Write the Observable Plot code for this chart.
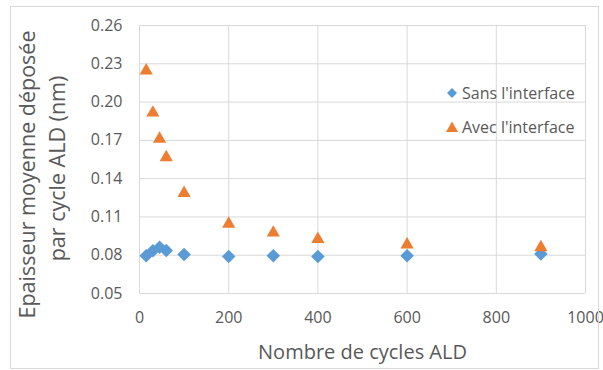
<!DOCTYPE html>
<html>
<head>
<meta charset="utf-8">
<script src="https://cdn.jsdelivr.net/npm/d3@7"></script>
<script src="https://cdn.jsdelivr.net/npm/@observablehq/plot@0.6"></script>
<style>
  html, body { margin: 0; padding: 0; background: #fff; }
  #wrap { position: relative; width: 603px; height: 370px; font-family: "Open Sans", sans-serif; }
  #border { position: absolute; left: 10px; top: 6px; width: 587px; height: 361px; border: 1px solid #d9d9d9; pointer-events: none; }
  #legend { position: absolute; left: 446px; top: 76px; font-size: 16px; color: #595959; line-height: 34px; }
  #legend div { display: flex; align-items: center; white-space: nowrap; }
  #legend svg { margin-right: 4px; }
</style>
</head>
<body>
<div id="wrap">
  <div id="chart"></div>
  <div id="legend"></div>
  <div id="border"></div>
</div>
<script>
// Data
const cyclesSans = [15, 30, 45, 60, 100, 200, 300, 400, 600, 900];
const valuesSans = [0.0795, 0.0835, 0.0863, 0.0837, 0.0805, 0.079, 0.0795, 0.079, 0.0795, 0.081];
const cyclesAvec = [15, 30, 45, 60, 100, 200, 300, 400, 600, 900];
const valuesAvec = [0.226, 0.193, 0.1725, 0.158, 0.130, 0.106, 0.099, 0.094, 0.0897, 0.0876];
const seriesNames = ["Sans l'interface", "Avec l'interface"];
const seriesColors = ["#5B9BD5", "#ED7D31"];
const xTicks = [0, 200, 400, 600, 800, 1000];
const yTicks = [0.05, 0.08, 0.11, 0.14, 0.17, 0.20, 0.23, 0.26];
const xTitle = "Nombre de cycles ALD";
const yTitleLines = ["Epaisseur moyenne déposée", "par cycle ALD (nm)"];

const sans = cyclesSans.map((c, i) => ({x: c, y: valuesSans[i]}));
const avec = cyclesAvec.map((c, i) => ({x: c, y: valuesAvec[i]}));

const textColor = "#595959";
const gridColor = "#d9d9d9";

const chart = Plot.plot({
  width: 603,
  height: 370,
  marginLeft: 139,
  marginRight: 18,
  marginTop: 25,
  marginBottom: 77,
  style: { fontFamily: "'Open Sans', sans-serif", color: textColor, background: "transparent", overflow: "visible" },
  x: { domain: [0, 1000], ticks: xTicks, label: null },
  y: { domain: [0.05, 0.26], ticks: yTicks, label: null },
  marks: [
    Plot.gridX(xTicks, { stroke: gridColor, strokeOpacity: 1, strokeWidth: 1 }),
    Plot.gridY(yTicks, { stroke: gridColor, strokeOpacity: 1, strokeWidth: 1 }),
    Plot.axisX(xTicks, { tickSize: 0, tickPadding: 18, fontSize: 16, fill: textColor, tickFormat: d3.format("d"), label: null }),
    Plot.axisY(yTicks, { tickSize: 0, tickPadding: 17, fontSize: 16, fill: textColor, tickFormat: d3.format(".2f"), label: null }),
    Plot.dot(sans, { x: "x", y: "y", symbol: "diamond2", r: 6.1, fill: seriesColors[0], stroke: "none" }),
    Plot.dot(avec, { x: "x", y: "y", symbol: "triangle", r: 4.9, fill: seriesColors[1], stroke: "none", dy: 1.8 }),
    Plot.text([xTitle], { frameAnchor: "bottom", dy: 65, fontSize: 20, fill: textColor }),
    Plot.text([yTitleLines[0]], { frameAnchor: "left", textAnchor: "middle", dx: -111, dy: 15, rotate: -90, fontSize: 21.5, fill: textColor }),
    Plot.text([yTitleLines[1]], { frameAnchor: "left", textAnchor: "middle", dx: -81, dy: 9, rotate: -90, fontSize: 21.5, fill: textColor })
  ]
});
document.getElementById("chart").appendChild(chart);

// Legend
const legend = document.getElementById("legend");
const sym = [
  '<svg width="12" height="12" viewBox="-6 -6 12 12"><path d="M0,-5L5,0L0,5L-5,0Z" fill="' + seriesColors[0] + '"/></svg>',
  '<svg width="12" height="12" viewBox="-6 -6 12 12"><path d="M0,-5.5L6,5L-6,5Z" fill="' + seriesColors[1] + '"/></svg>'
];
seriesNames.forEach((name, i) => {
  const row = document.createElement("div");
  row.innerHTML = sym[i] + "<span>" + name + "</span>";
  legend.appendChild(row);
});
</script>
</body>
</html>
